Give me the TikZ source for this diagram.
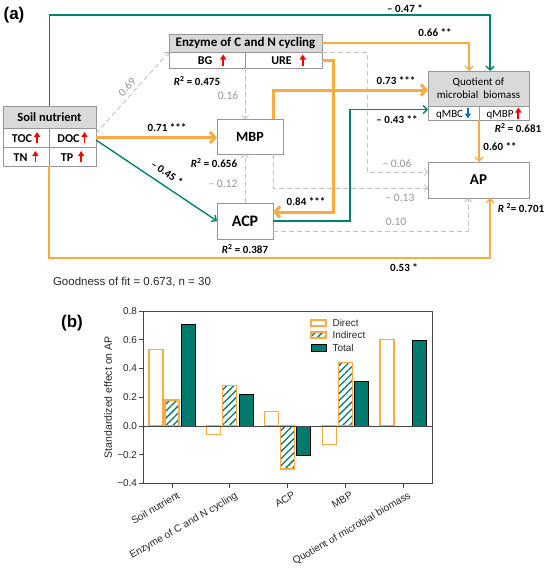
\documentclass[tikz,border=0pt]{standalone}
\usepackage{fontspec}
\setmainfont{Carlito}
\newfontfamily\arialfont{Liberation Sans}
\usepackage{tikz}
\usetikzlibrary{arrows.meta,patterns.meta}
\definecolor{orng}{RGB}{250,172,66}
\definecolor{tealc}{RGB}{0,130,117}
\definecolor{tealbar}{RGB}{0,122,108}
\definecolor{boxgray}{RGB}{150,150,150}
\definecolor{hdrgray}{RGB}{217,217,217}
\definecolor{dashgray}{RGB}{195,195,195}
\definecolor{lblgray}{RGB}{150,150,150}
\definecolor{axgray}{RGB}{70,70,70}
\definecolor{arwblue}{RGB}{0,112,192}
\newcommand{\uparw}{\tikz[baseline=0pt]\draw[red,line width=1.8pt,-{Triangle[length=5pt,width=6pt]}] (0pt,-1pt) -- (0pt,10pt);}
\newcommand{\dnarw}{\tikz[baseline=0pt]\draw[arwblue,line width=1.8pt,-{Triangle[length=5pt,width=6pt]}] (0pt,10pt) -- (0pt,-1pt);}

\begin{document}
\begin{tikzpicture}[x=1pt,y=-1pt,
    hdr/.style={draw=boxgray,fill=hdrgray,line width=0.8pt,inner sep=0pt,outer sep=0pt,font=\bfseries\fontsize{12.5}{13}\selectfont},
    cell/.style={draw=boxgray,line width=0.8pt,inner sep=0pt,outer sep=0pt,font=\bfseries\fontsize{12}{12}\selectfont},
    var/.style={draw=boxgray,line width=0.8pt,inner sep=0pt,outer sep=0pt,font=\bfseries\fontsize{14}{15}\selectfont},
    coef/.style={font=\bfseries\fontsize{11}{12}\selectfont},
    ns/.style={font=\fontsize{11.5}{12}\selectfont,text=lblgray},
    thk/.style={orng,line width=3pt,-{Straight Barb[length=5pt,width=11pt]}},
    thn/.style={orng,line width=1.4pt,-{Straight Barb[length=4pt,width=8pt]}},
    tl/.style={tealc,line width=1.4pt,-{Straight Barb[length=4pt,width=8pt]}},
    dsh/.style={dashgray,line width=0.9pt,dash pattern=on 5pt off 3pt,-{Straight Barb[length=3pt,width=7pt]}},
    axis/.style={axgray,line width=0.9pt},
    tick/.style={font=\arialfont\fontsize{10}{11}\selectfont,text=black!85},
    xlab/.style={font=\arialfont\fontsize{10.2}{11}\selectfont,text=black!85,anchor=north east,rotate=30},
    dirbar/.style={draw=orng,fill=white,line width=1.3pt},
    indbar/.style={draw=orng,line width=1.3pt,pattern={Lines[angle=45,distance=5pt,line width=1.3pt]},pattern color=tealbar},
    totbar/.style={fill=tealbar},
  ]
  \useasboundingbox (0,0) rectangle (550,570);

  % (a) path model
  \node[font=\arialfont\bfseries\fontsize{17}{18}\selectfont] (pa) at (14,15) {(a)};

  \node[hdr,minimum width=93pt,minimum height=22pt] (snh) at (49.5,117) {Soil nutrient};
  \node[cell,minimum width=46pt,minimum height=19pt] (toc) at (26,137.5) {TOC\,\uparw};
  \node[cell,minimum width=47pt,minimum height=19pt] (doc) at (72.5,137.5) {DOC\,\uparw};
  \node[cell,minimum width=46pt,minimum height=19pt] (tn) at (26,156.5) {TN\hspace{5pt}\uparw};
  \node[cell,minimum width=47pt,minimum height=19pt] (tp) at (72.5,156.5) {TP\hspace{5pt}\uparw};

  \node[hdr,font=\bfseries\fontsize{13}{14}\selectfont,minimum width=153pt,minimum height=18pt] (enh) at (245.5,43) {Enzyme of C and N cycling};
  \node[cell,minimum width=76pt,minimum height=16pt] (bg) at (207,60) {\hspace{10pt}BG\hspace{8pt}\uparw};
  \node[cell,minimum width=77pt,minimum height=16pt] (ure) at (283.5,60) {\hspace{10pt}URE\hspace{8pt}\uparw};
  \node[coef] (r1) at (197,81) {\itshape R\textsuperscript{\upshape 2}\upshape\ = 0.475};

  \node[hdr,font=\fontsize{11}{13}\selectfont,align=center,minimum width=101pt,minimum height=35pt] (qh) at (478.5,88.5) {Quotient of\\microbial\ \ biomass};
  \node[cell,font=\fontsize{11}{12}\selectfont,minimum width=51pt,minimum height=14pt] (qmbc) at (453.5,113) {qMBC\,\dnarw};
  \node[cell,font=\fontsize{11}{12}\selectfont,minimum width=50pt,minimum height=14pt] (qmbp) at (504,113) {qMBP\,\uparw};
  \node[coef] (r2) at (518,128) {\itshape R\textsuperscript{\upshape 2}\upshape\ = 0.681};

  \node[var,minimum width=66pt,minimum height=35pt] (mbp) at (250,136.5) {MBP};
  \node[coef] (r3) at (214,163) {\itshape R\textsuperscript{\upshape 2}\upshape\ = 0.656};
  \node[var,font=\bfseries\fontsize{16}{17}\selectfont,minimum width=56pt,minimum height=36pt] (acp) at (245,221) {ACP};
  \node[coef] (r4) at (245,249) {\itshape R\textsuperscript{\upshape 2}\upshape\ = 0.387};
  \node[var,font=\bfseries\fontsize{15}{16}\selectfont,minimum width=101pt,minimum height=36pt] (ap) at (478.5,180) {AP};
  \node[coef] (r5) at (521,208) {\itshape R \textsuperscript{\upshape 2}\upshape = 0.701};

  % paths
  \draw[tl] (snh.north) -- ++(0,-91) -| ([xshift=11.5pt]qh.north);
  \draw[thn] (enh.east) -| ([xshift=-9.5pt]qh.north);
  \draw[dsh] ([yshift=4pt]doc.east) -- (enh.south west);
  \draw[thk] (doc.east) -- (doc.east -| mbp.west);
  \draw[tl] ([yshift=-2.5pt]doc.east) -- (acp.west);
  \draw[thn] (tn.south east) -- ++(0,92) -| ([xshift=11.5pt]ap.south);
  \draw[dsh] (bg.south east) -- (bg.south east |- mbp.north);
  \draw[dsh] (enh.south east) -- ++(45,0) |- ([yshift=8pt]ap.west);
  \draw[thk] (ure.east) -- ++(11,0) |- ([yshift=9pt]acp.east);
  \draw[thk] ([xshift=23pt]mbp.north) |- ([yshift=-1.5pt]qh.west);
  \draw[tl] (acp.east) -- ++(77,0) |- ([yshift=3.5pt]qmbc.west);
  \draw[thn] (qmbc.south east) -- (qmbc.south east |- ap.north);
  \draw[dsh] ([xshift=23pt]mbp.south) |- ([yshift=-8pt]ap.west);
  \draw[dsh] ([yshift=-10pt]acp.east) -| ([xshift=-10.5pt]ap.south);
  \draw[dsh] (acp.north) -- (acp.north |- mbp.south);

  % coefficients
  \node[coef] (c1) at (405,9) {– 0.47 *};
  \node[coef] (c2) at (435,33) {0.66 **};
  \node[ns,rotate=48] (c3) at (127,87) {0.69};
  \node[coef] (c4) at (167,128) {0.71 ***};
  \node[coef,rotate=-34] (c5) at (167,173) {– 0.45 *};
  \node[coef] (c6) at (404,268) {0.53 *};
  \node[ns] (c7) at (228,96) {0.16};
  \node[ns] (c8) at (397,164) {– 0.06};
  \node[coef] (c9) at (306,202) {0.84 ***};
  \node[coef] (c10) at (396,81) {0.73 ***};
  \node[coef] (c11) at (397,120) {– 0.43 **};
  \node[coef] (c12) at (500,147) {0.60 **};
  \node[ns] (c13) at (400,198) {– 0.13};
  \node[ns] (c14) at (396,222) {0.10};
  \node[ns] (c15) at (223,184) {– 0.12};

  \node[font=\arialfont\fontsize{11.5}{12}\selectfont,text=black!85] (gof) at (132,282) {Goodness of fit = 0.673, n = 30};

  % (b) effects
  \node[font=\arialfont\bfseries\fontsize{17}{18}\selectfont] (pb) at (72,323) {(b)};
  \begin{scope}[shift={(0,426)},y=143.75pt]
    \foreach \d/\n/\t [count=\k] in {0.53/0.18/0.71,-0.06/0.28/0.22,0.10/-0.30/-0.20,-0.13/0.44/0.31,0.60/0/0.60}{
      \pgfmathsetmacro\x{172+57.75*(\k-1)}
      \draw[dirbar] (\x-23,0) rectangle (\x-9,\d);
      \ifdim\n pt=0pt\else\draw[indbar] (\x-7,0) rectangle (\x+7,\n);\fi
      \draw[totbar] (\x+9,0) rectangle (\x+23,\t);
      \draw[axis] (\x,-0.4) -- (\x,-0.43);
    }
    \draw[axis] (143,-0.4) rectangle (432,0.8);
    \draw[axis] (143,0) -- (432,0);
    \foreach \v/\t [count=\k] in {-0.4/−0.4,-0.2/−0.2,0/0.0,0.2/0.2,0.4/0.4,0.6/0.6,0.8/0.8}
      \draw[axis] (143,\v) -- (139,\v) node[tick,left,inner sep=1.5pt] (yl\k) {\t};
    \node[tick,font=\arialfont\fontsize{10.5}{11}\selectfont,rotate=90] (ylab) at (108,0.2) {Standardized effect on AP};
  \end{scope}
  \foreach \lab [count=\k] in {Soil nutrient,Enzyme of C and N cycling,ACP,MBP,Quotient of microbial biomass}
    \node[xlab] (xl\k) at ({178+57.75*(\k-1)},486.5) {\lab};

  % legend
  \draw[dirbar] (311,320) rectangle (326,326);
  \draw[indbar] (311,332) rectangle (326,338);
  \draw[totbar] (311,344) rectangle (326,351);
  \node[tick,anchor=west] (ld) at (329,323) {Direct};
  \node[tick,anchor=west] (li) at (329,335) {Indirect};
  \node[tick,anchor=west] (lt) at (329,347.5) {Total};
\end{tikzpicture}
\end{document}
